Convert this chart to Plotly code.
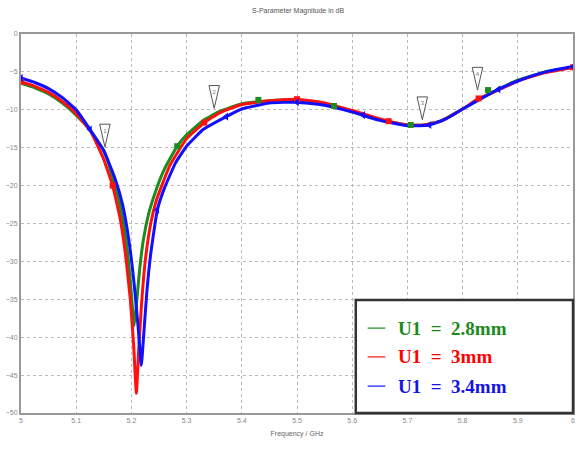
import plotly.graph_objects as go

# ---- data ----
freq_g = [5.00, 5.025, 5.05, 5.075, 5.10, 5.125, 5.15, 5.165, 5.18, 5.19, 5.198, 5.205, 5.21, 5.215, 5.222, 5.232, 5.245,
          5.26, 5.283, 5.30, 5.33, 5.36, 5.40, 5.45, 5.50, 5.55, 5.60, 5.65, 5.70, 5.73, 5.76, 5.80, 5.85, 5.90, 5.95, 6.00]
s11_g = [-6.5, -7.1, -7.9, -9.1, -10.7, -12.7, -15.4, -18.6, -22.8, -27.0, -32.5, -38.5, -35.0, -31.0, -27.0, -23.5, -20.5,
         -17.8, -14.8, -13.3, -11.4, -10.2, -9.2, -8.8, -8.7, -9.2, -10.2, -11.3, -12.0, -12.0, -11.5, -9.9, -7.8, -6.1, -5.0, -4.4]

freq_r = [5.00, 5.025, 5.05, 5.075, 5.10, 5.125, 5.148, 5.166, 5.18, 5.19, 5.198, 5.204, 5.209, 5.213, 5.218, 5.225, 5.235,
          5.245, 5.255, 5.27, 5.30, 5.332, 5.36, 5.40, 5.45, 5.50, 5.55, 5.60, 5.666, 5.70, 5.73, 5.76, 5.80, 5.829, 5.85,
          5.90, 5.95, 6.00]
s11_r = [-6.3, -6.9, -7.7, -8.9, -10.5, -12.7, -16.2, -20.0, -24.5, -29.5, -35.0, -41.0, -47.4, -42.0, -36.0, -30.0, -25.0,
         -22.0, -20.0, -17.3, -13.8, -11.7, -10.4, -9.3, -8.8, -8.6, -9.1, -10.1, -11.5, -12.0, -12.0, -11.5, -9.9, -8.5, -7.9,
         -6.2, -5.1, -4.4]

freq_b = [5.00, 5.025, 5.05, 5.075, 5.10, 5.125, 5.15, 5.17, 5.184, 5.195, 5.205, 5.212, 5.218, 5.222, 5.228, 5.235, 5.247,
          5.26, 5.28, 5.30, 5.33, 5.372, 5.40, 5.45, 5.50, 5.55, 5.60, 5.65, 5.70, 5.74, 5.77, 5.80, 5.865, 5.90, 5.95, 6.00]
s11_b = [-5.8, -6.4, -7.2, -8.4, -10.0, -12.6, -15.4, -19.0, -22.5, -27.0, -33.0, -38.5, -43.7, -40.0, -34.0, -29.0, -23.2,
         -20.3, -17.0, -14.8, -12.6, -10.9, -9.9, -9.1, -9.0, -9.4, -10.3, -11.4, -12.1, -12.0, -11.2, -9.9, -7.3, -6.2, -5.0, -4.3]

# curve symbols (CST-style markers)
mk_g_f = [5.283, 5.43, 5.567, 5.706, 5.846]
mk_g_v = [-14.8, -8.7, -9.5, -12.0, -7.4]
mk_r_f = [5.00, 5.166, 5.332, 5.50, 5.666, 5.829, 6.00]
mk_r_v = [-6.3, -20.0, -11.7, -8.6, -11.5, -8.5, -4.4]
mk_b_f = [5.00, 5.125, 5.247, 5.372, 5.50, 5.62, 5.74, 5.865, 6.00]
mk_b_v = [-5.8, -12.6, -23.2, -10.9, -9.0, -10.7, -12.0, -7.3, -4.3]

# numbered marker flags (tip position)
flag_f = [5.152, 5.35, 5.727, 5.827]
flag_v = [-14.9, -9.8, -11.3, -7.4]
flag_txt = ["1", "2", "3", "4"]

names = ["U1\u00a0\u00a0=\u00a0\u00a02.8mm", "U1\u00a0\u00a0=\u00a0\u00a03mm", "U1\u00a0\u00a0=\u00a0\u00a03.4mm"]
colors = ["#1c8c1c", "#ff1010", "#1010ff"]
text_colors = ["#1a8a1a", "#ff0000", "#1414e6"]

fig = go.Figure()
for f, v, c in [(freq_g, s11_g, colors[0]), (freq_r, s11_r, colors[1]), (freq_b, s11_b, colors[2])]:
    fig.add_trace(go.Scatter(x=f, y=v, mode="lines", line=dict(color=c, width=3, shape="spline", smoothing=0.4),
                             showlegend=False, hoverinfo="skip"))
fig.add_trace(go.Scatter(x=mk_g_f, y=mk_g_v, mode="markers", marker=dict(symbol="square", size=6, color=colors[0]),
                         showlegend=False))
fig.add_trace(go.Scatter(x=mk_r_f, y=mk_r_v, mode="markers", marker=dict(symbol="square", size=6, color=colors[1]),
                         showlegend=False))
fig.add_trace(go.Scatter(x=mk_b_f, y=mk_b_v, mode="markers", marker=dict(symbol="triangle-left", size=7, color=colors[2]),
                         showlegend=False))

# flags: narrow inverted pentagon drawn from the tip position (sizes in axis units)
hw = 0.0095   # half width
for f, v, t in zip(flag_f, flag_v, flag_txt):
    xs = [f, f - hw * 0.35, f - hw, f + hw, f + hw * 0.35, f]
    ys = [v, v + 1.0, v + 3.0, v + 3.0, v + 1.0, v]
    fig.add_trace(go.Scatter(x=xs, y=ys, mode="lines", fill="toself", fillcolor="white",
                             line=dict(color="#555", width=1), showlegend=False, hoverinfo="skip"))
    fig.add_trace(go.Scatter(x=[f], y=[v + 2.1], mode="text", text=[t],
                             textfont=dict(size=6, color="#777", family="Liberation Sans"),
                             showlegend=False, hoverinfo="skip"))

# legend box
lx0, lx1, ly0, ly1 = 0.6065, 1.0, 0.0, 0.298
fig.add_shape(type="rect", xref="paper", yref="paper", x0=lx0, x1=lx1, y0=ly0, y1=ly1,
              line=dict(color="#333", width=2.5), fillcolor="white", layer="above")
rows = [0.224, 0.148, 0.071]
for i in range(3):
    fig.add_shape(type="line", xref="paper", yref="paper", x0=0.628, x1=0.66, y0=rows[i], y1=rows[i],
                  line=dict(color=colors[i], width=1.2), layer="above")
    fig.add_annotation(xref="paper", yref="paper", x=0.679, y=rows[i], xanchor="left", yanchor="middle",
                       text="<b>" + names[i] + "</b>", showarrow=False,
                       font=dict(family="Liberation Serif", size=19, color=text_colors[i]))

fig.update_layout(
    width=581, height=457, margin=dict(l=21, r=6, t=34, b=44),
    paper_bgcolor="white", plot_bgcolor="white",
    title=dict(text="S-Parameter Magnitude in dB", x=0.513, xanchor="center", y=0.983, yanchor="top",
               font=dict(size=7, color="#555", family="Liberation Sans")),
    font=dict(family="Liberation Sans", size=7, color="#777"),
)
fig.update_xaxes(range=[5, 6], tickvals=[5, 5.1, 5.2, 5.3, 5.4, 5.5, 5.6, 5.7, 5.8, 5.9, 6],
                 ticktext=["5", "5.1", "5.2", "5.3", "5.4", "5.5", "5.6", "5.7", "5.8", "5.9", "6"],
                 showgrid=True, gridcolor="#bbb", griddash="dot", gridwidth=1,
                 showline=True, linecolor="#999", linewidth=2, mirror=True, ticks="", zeroline=False,
                 title=dict(text="Frequency / GHz", font=dict(size=7, color="#666"), standoff=8),
                 tickfont=dict(size=7, color="#888"))
fig.update_yaxes(range=[-50, 0], tickvals=[0, -5, -10, -15, -20, -25, -30, -35, -40, -45, -50],
                 showgrid=True, gridcolor="#bbb", griddash="dot", gridwidth=1,
                 showline=True, linecolor="#999", linewidth=2, mirror=True, ticks="", zeroline=False,
                 tickfont=dict(size=7, color="#888"))

fig.write_html("out.html")
